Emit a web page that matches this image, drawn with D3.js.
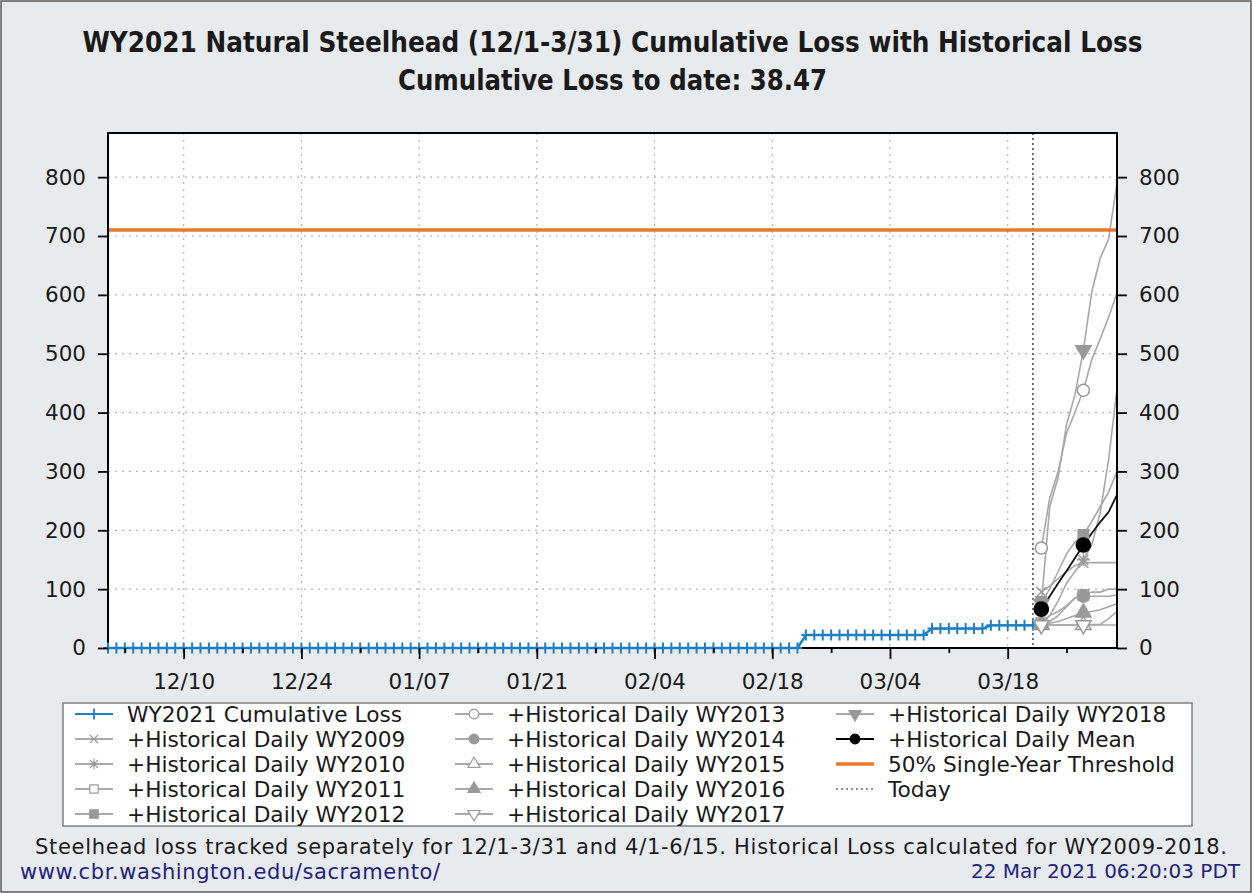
<!DOCTYPE html>
<html>
<head>
<meta charset="utf-8">
<script src="https://cdn.jsdelivr.net/npm/d3@7"></script>
<style>
  body { margin: 0; background: #fff; }
  svg text { font-family: "DejaVu Sans", sans-serif; fill: #1a1a1a; }
</style>
</head>
<body>
<svg id="chart" width="1252" height="893"></svg>
<script>
// ---- data ----
const firstDay = '2020-12-01'
const lastDay = '2021-03-31'
const todayDay = '2021-03-21'
const histFirstDay = '2021-03-22'   // historical projections start the day after today

// WY2021 cumulative loss, one value per day from 12/01 to 03/21
const cumLoss = [
  0, 0, 0, 0, 0, 0, 0, 0, 0, 0,
  0, 0, 0, 0, 0, 0, 0, 0, 0, 0,
  0, 0, 0, 0, 0, 0, 0, 0, 0, 0,
  0, 0, 0, 0, 0, 0, 0, 0, 0, 0,
  0, 0, 0, 0, 0, 0, 0, 0, 0, 0,
  0, 0, 0, 0, 0, 0, 0, 0, 0, 0,
  0, 0, 0, 0, 0, 0, 0, 0, 0, 0,
  0, 0, 0, 0, 0, 0, 0, 0, 0, 0,
  0, 0, 0, 22, 22, 22, 22, 22, 22, 22,
  22, 22, 22, 22, 22, 22, 22, 22, 33, 33,
  33, 33, 33, 33, 33, 38.47, 38.47, 38.47, 38.47, 38.47,
  38.47
]

// current loss + historical daily loss, 03/22 .. 03/31
const wy2009 = [95, 105, 118, 130, 140, 145, 145, 145, 145, 145]
const wy2010 = [40, 55, 80, 110, 130, 150, 175, 230, 320, 440]
const wy2011 = [42, 55, 62, 72, 85, 90, 95, 95, 100, 100]
const wy2012 = [78, 100, 130, 160, 180, 192, 215, 240, 265, 300]
const wy2013 = [170, 255, 300, 365, 400, 438, 490, 525, 562, 603]
const wy2014 = [40, 45, 55, 70, 85, 88, 88, 88, 88, 90]
const wy2015 = [39, 39, 39, 39, 39, 39, 40, 40, 50, 62]
const wy2016 = [40, 42, 45, 50, 55, 60, 62, 65, 70, 75]
const wy2017 = [39, 39, 39, 39, 39, 39, 39, 39, 39, 39]
const wy2018 = [75, 240, 290, 380, 430, 506, 605, 662, 695, 790]
const histMean = [66, 88, 110, 131, 153, 175, 195, 214, 231, 260]

const threshold = 710

const yTicks = [0, 100, 200, 300, 400, 500, 600, 700, 800]
const xTickLabels = ['12/10', '12/24', '01/07', '01/21', '02/04', '02/18', '03/04', '03/18']

const titleLine1 = 'WY2021 Natural Steelhead (12/1-3/31) Cumulative Loss with Historical Loss'
const titleLine2 = 'Cumulative Loss to date: 38.47'
const footNote = 'Steelhead loss tracked separately for 12/1-3/31 and 4/1-6/15. Historical Loss calculated for WY2009-2018.'
const siteUrl = 'www.cbr.washington.edu/sacramento/'
const stamp = '22 Mar 2021 06:20:03 PDT'

// ---- layout ----
const W = 1252
const H = 893
const plotL = 108
const plotR = 1117
const plotT = 133
const plotB = 648

const blue = '#1f7fc4'
const orange = '#e8782c'
const gray = '#a8a8a8'
const mark = '#999999'

const parseDay = d3.timeParse('%Y-%m-%d')
const dayOf = (label) => {
  // tick labels are mm/dd, december belongs to 2020
  const [m, d] = label.split('/').map(Number)
  return new Date(m === 12 ? 2020 : 2021, m - 1, d)
}

const x = d3.scaleTime()
  .domain([parseDay(firstDay), parseDay(lastDay)])
  .range([plotL, plotR])

const y = d3.scaleLinear()
  .domain([0, 875])
  .range([plotB, plotT])

const svg = d3.select('#chart')

svg.append('rect')
  .attr('x', 1).attr('y', 1)
  .attr('width', W - 2).attr('height', H - 2)
  .attr('fill', '#e7ebee')
  .attr('stroke', '#5a5a5a')
  .attr('stroke-width', 1.5)

// titles
svg.append('text')
  .attr('x', (plotL + plotR) / 2).attr('y', 52)
  .attr('text-anchor', 'middle')
  .style('font-family', '"DejaVu Sans Condensed", "DejaVu Sans", sans-serif')
  .style('font-weight', 'bold')
  .style('font-size', '28px')
  .attr('textLength', 1060)
  .attr('lengthAdjust', 'spacingAndGlyphs')
  .text(titleLine1)

svg.append('text')
  .attr('x', (plotL + plotR) / 2).attr('y', 90)
  .attr('text-anchor', 'middle')
  .style('font-family', '"DejaVu Sans Condensed", "DejaVu Sans", sans-serif')
  .style('font-weight', 'bold')
  .style('font-size', '28px')
  .attr('textLength', 429)
  .attr('lengthAdjust', 'spacingAndGlyphs')
  .text(titleLine2)

// plot background
svg.append('rect')
  .attr('x', plotL).attr('y', plotT)
  .attr('width', plotR - plotL).attr('height', plotB - plotT)
  .attr('fill', '#fff')

// grid
const majorDays = xTickLabels.map(dayOf)
const minorDays = d3.timeThursday.range(parseDay(firstDay), parseDay(lastDay))
  .filter(d => !majorDays.some(m => +m === +d))

svg.append('g').selectAll('line')
  .data(yTicks.filter(v => v > 0))
  .join('line')
  .attr('x1', plotL).attr('x2', plotR)
  .attr('y1', d => y(d)).attr('y2', d => y(d))
  .attr('stroke', '#b3b3b3')
  .attr('stroke-width', 1.2)
  .attr('stroke-dasharray', '2,5')

svg.append('g').selectAll('line')
  .data(majorDays)
  .join('line')
  .attr('x1', d => x(d)).attr('x2', d => x(d))
  .attr('y1', plotT).attr('y2', plotB)
  .attr('stroke', '#b3b3b3')
  .attr('stroke-width', 1.2)
  .attr('stroke-dasharray', '2,5')

// today line
svg.append('line')
  .attr('x1', x(parseDay(todayDay))).attr('x2', x(parseDay(todayDay)))
  .attr('y1', plotT).attr('y2', plotB)
  .attr('stroke', '#666')
  .attr('stroke-width', 1.8)
  .attr('stroke-dasharray', '2,3')

// historical series
const histSeries = [
  { name: '+Historical Daily WY2009', values: wy2009, sym: 'cross', fill: false },
  { name: '+Historical Daily WY2010', values: wy2010, sym: 'asterisk', fill: false },
  { name: '+Historical Daily WY2011', values: wy2011, sym: 'square', fill: false },
  { name: '+Historical Daily WY2012', values: wy2012, sym: 'square', fill: true },
  { name: '+Historical Daily WY2013', values: wy2013, sym: 'circle', fill: false },
  { name: '+Historical Daily WY2014', values: wy2014, sym: 'circle', fill: true },
  { name: '+Historical Daily WY2015', values: wy2015, sym: 'triangle', fill: false },
  { name: '+Historical Daily WY2016', values: wy2016, sym: 'triangle', fill: true },
  { name: '+Historical Daily WY2017', values: wy2017, sym: 'triangleDown', fill: false },
  { name: '+Historical Daily WY2018', values: wy2018, sym: 'triangleDown', fill: true }
]

const histDate = i => d3.timeDay.offset(parseDay(histFirstDay), i)
const cumDate = i => d3.timeDay.offset(parseDay(firstDay), i)

const lineFn = d3.line()
  .x(d => x(d.date))
  .y(d => y(d.value))

const toPoints = (vals, dateFn) => vals.map((v, i) => ({ date: dateFn(i), value: v, i }))

function symbolPath (sym) {
  if (sym === 'cross') return 'M-5,-5L5,5M-5,5L5,-5'
  if (sym === 'asterisk') return 'M-5,-5L5,5M-5,5L5,-5M0,-6.5V6.5M-6.5,0H6.5'
  if (sym === 'square') return d3.symbol(d3.symbolSquare, 110)()
  if (sym === 'circle') return d3.symbol(d3.symbolCircle, 115)()
  if (sym === 'triangle') return d3.symbol(d3.symbolTriangle, 100)()
  if (sym === 'triangleDown') return d3.symbol(d3.symbolTriangle, 100)()
  return ''
}

function drawSymbol (g, sym, filled, color, cx, cy, size) {
  g.append('path')
    .attr('d', symbolPath(sym))
    .attr('transform', 'translate(' + cx + ',' + cy + ')' + (sym === 'triangleDown' ? ' rotate(180)' : '') + (size ? ' scale(' + size + ')' : ''))
    .attr('fill', filled ? color : '#fff')
    .attr('stroke', color)
    .attr('stroke-width', 1.5)
}

const linesG = svg.append('g')
histSeries.forEach(s => {
  linesG.append('path')
    .attr('d', lineFn(toPoints(s.values, histDate)))
    .attr('fill', 'none')
    .attr('stroke', gray)
    .attr('stroke-width', 1.6)
})

linesG.append('path')
  .attr('d', lineFn(toPoints(histMean, histDate)))
  .attr('fill', 'none')
  .attr('stroke', '#111')
  .attr('stroke-width', 1.8)

// threshold
svg.append('line')
  .attr('x1', plotL).attr('x2', plotR)
  .attr('y1', y(threshold)).attr('y2', y(threshold))
  .attr('stroke', orange)
  .attr('stroke-width', 3.5)

// WY2021 cumulative loss
svg.append('path')
  .attr('d', lineFn(toPoints(cumLoss, cumDate)))
  .attr('fill', 'none')
  .attr('stroke', blue)
  .attr('stroke-width', 2.4)

// plot frame
svg.append('rect')
  .attr('x', plotL).attr('y', plotT)
  .attr('width', plotR - plotL).attr('height', plotB - plotT)
  .attr('fill', 'none')
  .attr('stroke', '#000')
  .attr('stroke-width', 2)

// markers
const plusPath = 'M-4.5,0H4.5M0,-5.5V5.5'
svg.append('g').selectAll('path')
  .data(toPoints(cumLoss, cumDate))
  .join('path')
  .attr('d', plusPath)
  .attr('transform', d => 'translate(' + x(d.date) + ',' + y(d.value) + ')')
  .attr('stroke', blue)
  .attr('stroke-width', 2)
  .attr('fill', 'none')

const markG = svg.append('g')
histSeries.forEach(s => {
  toPoints(s.values, histDate).filter(p => p.i % 5 === 0).forEach(p => {
    drawSymbol(markG, s.sym, s.fill, mark, x(p.date), y(p.value))
  })
})
toPoints(histMean, histDate).filter(p => p.i % 5 === 0).forEach(p => {
  drawSymbol(markG, 'circle', true, '#000', x(p.date), y(p.value), 1.15)
})

// axes
const styleAxis = g => {
  g.select('.domain').remove()
  g.selectAll('.tick line').attr('stroke', '#000').attr('stroke-width', 1.8)
  g.selectAll('.tick text').style('font-size', '21.5px').attr('fill', '#1a1a1a')
}

svg.append('g')
  .attr('transform', 'translate(' + plotL + ',0)')
  .call(d3.axisLeft(y).tickValues(yTicks).tickSize(10).tickPadding(12))
  .call(styleAxis)

svg.append('g')
  .attr('transform', 'translate(' + plotR + ',0)')
  .call(d3.axisRight(y).tickValues(yTicks).tickSize(10).tickPadding(12))
  .call(styleAxis)

svg.append('g')
  .attr('transform', 'translate(0,' + plotB + ')')
  .call(d3.axisBottom(x).tickValues(majorDays).tickSize(11).tickPadding(15)
    .tickFormat((d, i) => xTickLabels[i]))
  .call(styleAxis)

svg.append('g')
  .attr('transform', 'translate(0,' + plotB + ')')
  .call(d3.axisBottom(x).tickValues(minorDays).tickSize(5).tickFormat(''))
  .call(styleAxis)

// legend
const legendItems = [
  { name: 'WY2021 Cumulative Loss', kind: 'plus' },
  ...histSeries.map(s => ({ name: s.name, kind: 'hist', s })),
  { name: '+Historical Daily Mean', kind: 'mean' },
  { name: '50% Single-Year Threshold', kind: 'threshold' },
  { name: 'Today', kind: 'today' }
]
const colX = [75, 455, 836]
const rowY0 = 714
const rowStep = 25

const legendG = svg.append('g')
legendG.append('rect')
  .attr('x', 63).attr('y', 703)
  .attr('width', 1192 - 63).attr('height', 123)
  .attr('fill', '#fff')
  .attr('stroke', '#808080')
  .attr('stroke-width', 1.5)

legendItems.forEach((item, k) => {
  const col = Math.floor(k / 5)
  const row = k % 5
  const lx = colX[col]
  const ly = rowY0 + row * rowStep
  const g = legendG.append('g')
  const color = item.kind === 'plus' ? blue
    : item.kind === 'mean' ? '#000'
      : item.kind === 'threshold' ? orange
        : item.kind === 'today' ? '#6e6e6e' : mark
  g.append('line')
    .attr('x1', lx).attr('x2', lx + 38)
    .attr('y1', ly).attr('y2', ly)
    .attr('stroke', item.kind === 'hist' ? gray : color)
    .attr('stroke-width', item.kind === 'threshold' ? 3.5 : item.kind === 'today' ? 1.4 : 1.8)
    .attr('stroke-dasharray', item.kind === 'today' ? '2,3' : null)
  if (item.kind === 'plus') {
    g.append('path').attr('d', plusPath)
      .attr('transform', 'translate(' + (lx + 19) + ',' + ly + ')')
      .attr('stroke', blue).attr('stroke-width', 1.8)
  } else if (item.kind === 'hist') {
    drawSymbol(g, item.s.sym, item.s.fill, mark, lx + 19, ly, 0.8)
  } else if (item.kind === 'mean') {
    drawSymbol(g, 'circle', true, '#000', lx + 19, ly, 0.8)
  }
  g.append('text')
    .attr('x', lx + 52).attr('y', ly)
    .attr('dy', '0.36em')
    .style('font-size', '21.7px')
    .text(item.name)
})

// footer
svg.append('text')
  .attr('x', 631).attr('y', 846)
  .attr('dy', '0.36em')
  .attr('text-anchor', 'middle')
  .style('font-size', '21px')
  .attr('textLength', 1192)
  .text(footNote)

svg.append('text')
  .attr('x', 20).attr('y', 871)
  .attr('dy', '0.36em')
  .style('font-size', '21px')
  .style('fill', '#23237e')
  .attr('textLength', 420)
  .text(siteUrl)

svg.append('text')
  .attr('x', 1240).attr('y', 871)
  .attr('dy', '0.36em')
  .attr('text-anchor', 'end')
  .style('font-size', '20px')
  .style('fill', '#23237e')
  .text(stamp)
</script>
</body>
</html>
